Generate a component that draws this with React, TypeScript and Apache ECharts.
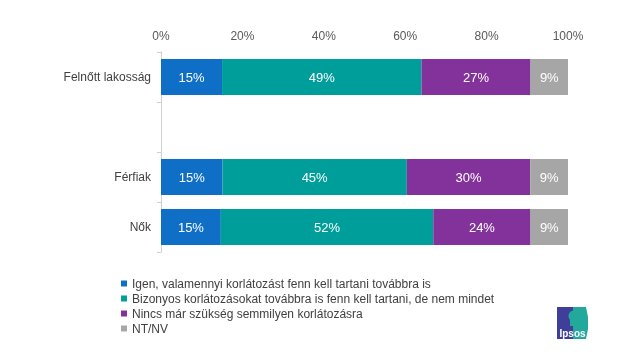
import React, { useEffect, useRef } from "react";
import * as echarts from "echarts";

const categories = ["Felnőtt lakosság", "", "Férfiak", "Nők"];
const seriesNames = [
  "Igen, valamennyi korlátozást fenn kell tartani továbbra is",
  "Bizonyos korlátozásokat továbbra is fenn kell tartani, de nem mindet",
  "Nincs már szükség semmilyen korlátozásra",
  "NT/NV",
];
const igen = [15.0, null, 15.1, 14.7];
const bizonyos = [49.0, null, 45.3, 52.2];
const nincs = [26.8, null, 30.3, 23.9];
const ntnv = [9.2, null, 9.3, 9.2];
const xTicks = [0, 20, 40, 60, 80, 100];
const colors = ["#0f6fc6", "#009e9a", "#84329b", "#a6a6a6"];

export default function App() {
  const ref = useRef<HTMLDivElement>(null);
  useEffect(() => {
    if (!ref.current) return;
    const chart = echarts.init(ref.current, null, { renderer: "svg" });
    const font = "'Liberation Sans', Arial, sans-serif";
    const values = [igen, bizonyos, nincs, ntnv];
    chart.setOption({
      animation: false,
      textStyle: { fontFamily: font },
      grid: { left: 161, right: 56, top: 52, height: 200, containLabel: false },
      xAxis: {
        type: "value",
        position: "top",
        min: xTicks[0],
        max: xTicks[xTicks.length - 1],
        interval: 20,
        axisLine: { show: false },
        axisTick: { show: false },
        splitLine: { show: false },
        axisLabel: {
          formatter: (v: number) => v + "%",
          color: "#595959",
          fontSize: 12,
          fontFamily: font,
          margin: 10,
        },
      },
      yAxis: {
        type: "category",
        data: categories,
        inverse: true,
        axisLine: { show: true, lineStyle: { color: "#d0d0d0", width: 1 } },
        axisTick: { show: true, length: 4, lineStyle: { color: "#d0d0d0" } },
        axisLabel: { color: "#404040", fontSize: 12, fontFamily: font, margin: 10 },
      },
      legend: {
        orient: "vertical",
        left: 116,
        top: 272,
        height: 86,
        itemWidth: 6,
        itemHeight: 6,
        itemGap: 2,
        itemTextGap: 4,
        icon: "rect",
        textStyle: { color: "#404040", fontSize: 12, lineHeight: 13, fontFamily: font },
        data: seriesNames,
      },
      series: seriesNames.map((name, i) => ({
        name,
        type: "bar",
        stack: "total",
        barWidth: "72%",
        data: values[i],
        itemStyle: { color: colors[i] },
        label: {
          show: true,
          position: "inside",
          color: "#ffffff",
          fontSize: 13,
          fontFamily: font,
          formatter: (p: any) => Math.round(p.value) + "%",
        },
      })),
      graphic: [
        {
          type: "group",
          left: 557,
          top: 307,
          children: [
            { type: "rect", shape: { x: 0, y: 0, width: 16, height: 32 }, style: { fill: "#3f3f9a" } },
            {
              type: "polygon",
              shape: { points: [[16, 0], [29, 0], [31, 10], [31, 22], [29, 32], [16, 32]] },
              style: { fill: "#23a99c" },
            },
            { type: "circle", shape: { cx: 17, cy: 9, r: 5.5 }, style: { fill: "#23a99c" } },
            { type: "rect", shape: { x: 13, y: 12, width: 6, height: 7 }, style: { fill: "#23a99c" } },
            {
              type: "text",
              style: {
                x: 15.5,
                y: 26,
                text: "Ipsos",
                fill: "#ffffff",
                font: "bold 10px " + font,
                align: "center",
                verticalAlign: "middle",
              },
            },
          ],
        },
      ],
    });
    return () => chart.dispose();
  }, []);
  return (
    <div
      ref={ref}
      style={{ position: "fixed", left: 0, top: 0, width: 624, height: 360 }}
    />
  );
}
